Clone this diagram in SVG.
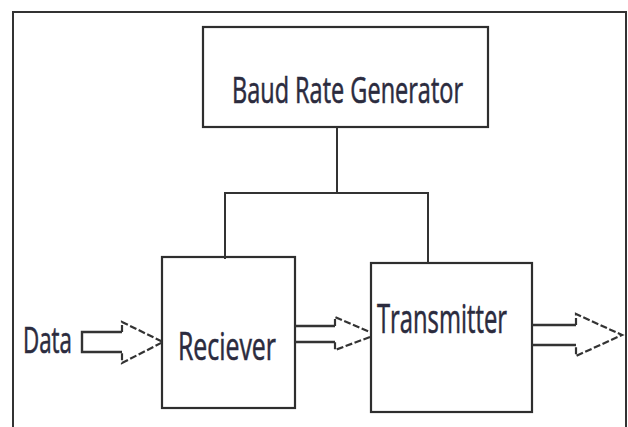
<svg xmlns="http://www.w3.org/2000/svg" width="628" height="427" viewBox="0 0 628 427">
<style>
.box{fill:#fff;stroke:#2e2e2e;stroke-width:2.2}
.ln{fill:none;stroke:#333;stroke-width:2}
.shaft{fill:none;stroke:#333;stroke-width:2.4}
.head{fill:none;stroke:#333;stroke-width:2.2;stroke-dasharray:7 2.5}
.t{font-family:"Open Sans","Liberation Sans",sans-serif;fill:#2b2b3e;stroke:#2b2b3e;stroke-width:0.6}
</style>
<rect width="628" height="427" fill="#fff"/>
<path class="ln" d="M13,428 V12 H626 V428"/>
<g id="baud-rate-generator">
<rect class="box" x="203" y="27" width="285" height="100"/>
<text class="t" x="232" y="103" font-size="36" textLength="231" lengthAdjust="spacingAndGlyphs">Baud Rate Generator</text>
</g>
<g id="receiver">
<rect class="box" x="162" y="257" width="133" height="151"/>
<text class="t" x="178" y="360" font-size="39" textLength="98" lengthAdjust="spacingAndGlyphs">Reciever</text>
</g>
<g id="transmitter">
<rect class="box" x="371" y="263" width="161" height="149"/>
<text class="t" x="377" y="333" font-size="41" textLength="130" lengthAdjust="spacingAndGlyphs">Transmitter</text>
</g>
<g id="data">
<text class="t" x="23" y="353" font-size="36" textLength="49" lengthAdjust="spacingAndGlyphs">Data</text>
</g>
<g id="connectors">
<path class="ln" d="M337,127 V193"/>
<path class="ln" d="M225,259 V193 H428 V263"/>
<path class="shaft" d="M122,332 H82 V352 H122"/>
<path class="head" d="M122,332 V322 L163,342 L122,363 V352"/>
<path class="shaft" d="M295,326 H335 M295,342 H335"/>
<path class="head" d="M335,326 V317 L370,332 M370,337 L335,350 V342"/>
<path class="shaft" d="M532,325 H576 M532,345 H576"/>
<path class="head" d="M576,325 V314 L622,335 L576,356 V345"/>
</g>
</svg>
